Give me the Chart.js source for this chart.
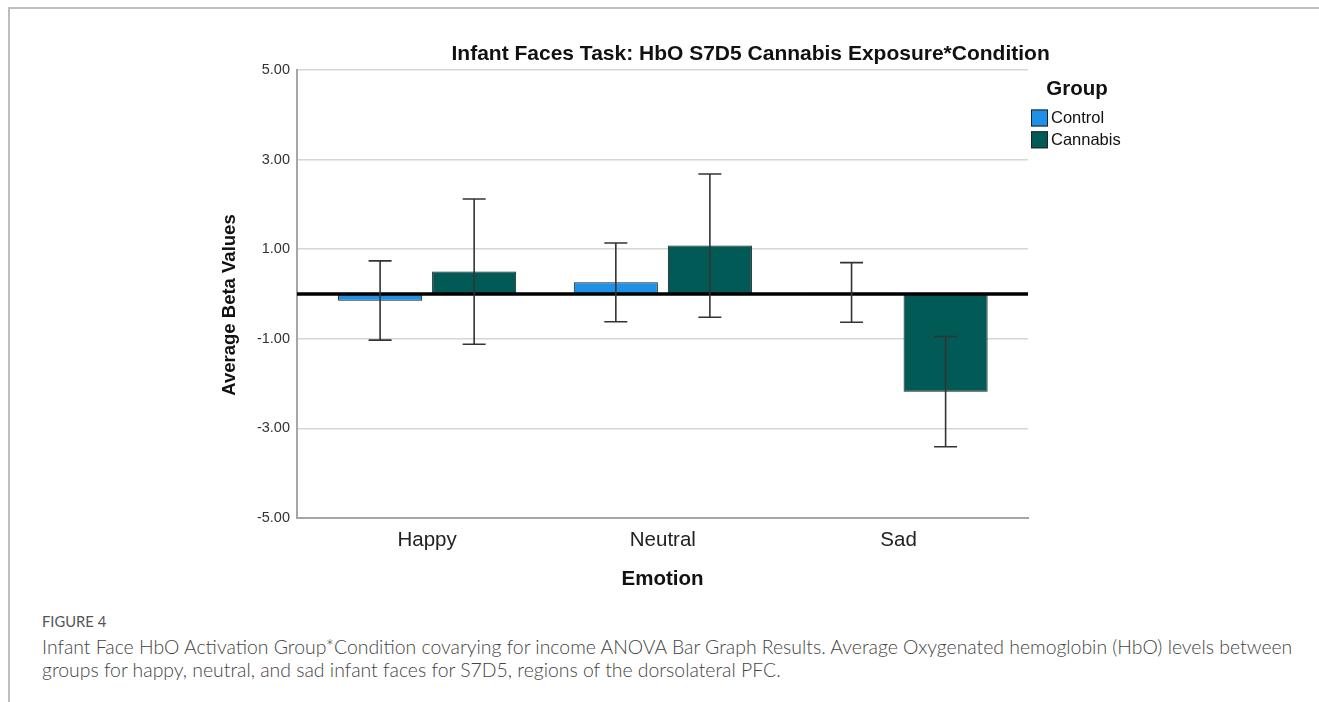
<!DOCTYPE html>
<html><head><meta charset="utf-8">
<script src="https://cdn.jsdelivr.net/npm/chart.js@4.4.1/dist/chart.umd.min.js"></script>
<style>
html,body{margin:0;padding:0;background:#fff;}
body{width:1319px;height:702px;position:relative;overflow:hidden;}
#frame{position:absolute;left:8px;top:7px;width:1400px;height:800px;border-top:2px solid #bdbdbd;border-left:2px solid #bdbdbd;}
#wrap{position:absolute;left:0;top:0;width:1319px;height:600px;}
#fig{position:absolute;left:42px;top:612px;font-family:Lato,sans-serif;font-weight:400;font-size:13px;line-height:18px;color:#555;}
#cap{position:absolute;left:42px;top:635px;font-family:Lato,sans-serif;font-weight:300;font-size:17px;line-height:23px;color:#444;white-space:nowrap;}
</style></head>
<body>
<div id="frame"></div>
<div id="wrap"><canvas id="c" width="1319" height="600"></canvas></div>
<div id="fig">FIGURE 4</div>
<div id="cap"><span id="l1">Infant Face HbO Activation Group*Condition covarying for income ANOVA Bar Graph Results. Average Oxygenated hemoglobin (HbO) levels between</span><br><span id="l2">groups for happy, neutral, and sad infant faces for S7D5, regions of the dorsolateral PFC.</span></div>
<script>
// ---- data ----
const categories = ['Happy', 'Neutral', 'Sad'];
const seriesNames = ['Control', 'Cannabis'];
const controlMeans = [-0.15, 0.26, 0.03];
const controlLower = [-1.03, -0.62, -0.63];
const controlUpper = [0.74, 1.14, 0.70];
const cannabisMeans = [0.50, 1.08, -2.18];
const cannabisLower = [-1.12, -0.52, -3.41];
const cannabisUpper = [2.12, 2.68, -0.95];
const yTickValues = [-5, -3, -1, 1, 3, 5];
const chartTitle = 'Infant Faces Task: HbO S7D5 Cannabis Exposure*Condition';
const yTitle = 'Average Beta Values';
const xTitle = 'Emotion';
const legendTitle = 'Group';

// fit caption width
(function(){
  const l1 = document.getElementById('l1');
  const w = l1.getBoundingClientRect().width;
  const cap = document.getElementById('cap');
  const fs = 17 * 1251 / w;
  cap.style.fontSize = fs.toFixed(2) + 'px';
  document.getElementById('fig').style.fontSize = (fs * 0.76).toFixed(2) + 'px';
})();

const FONT = "'Liberation Sans', Arial, sans-serif";
const errors = [[controlLower, controlUpper], [cannabisLower, cannabisUpper]];

const decor = {
  id: 'decor',
  afterDatasetsDraw(chart) {
    const {ctx, chartArea, scales: {y}} = chart;
    const y0 = y.getPixelForValue(0);
    ctx.save();
    ctx.strokeStyle = '#000';
    ctx.lineWidth = 3.5;
    ctx.beginPath();
    ctx.moveTo(chartArea.left, y0);
    ctx.lineTo(chartArea.right, y0);
    ctx.stroke();
    ctx.strokeStyle = '#333';
    ctx.lineWidth = 1.6;
    chart.data.datasets.forEach((ds, di) => {
      const meta = chart.getDatasetMeta(di);
      meta.data.forEach((el, i) => {
        const lo = y.getPixelForValue(errors[di][0][i]);
        const hi = y.getPixelForValue(errors[di][1][i]);
        const x = el.x;
        ctx.beginPath();
        ctx.moveTo(x, lo); ctx.lineTo(x, hi);
        ctx.moveTo(x - 11.5, lo); ctx.lineTo(x + 11.5, lo);
        ctx.moveTo(x - 11.5, hi); ctx.lineTo(x + 11.5, hi);
        ctx.stroke();
      });
    });
    ctx.restore();
  },
  afterDraw(chart) {
    const {ctx} = chart;
    ctx.save();
    ctx.fillStyle = '#111';
    ctx.font = 'bold 21px ' + FONT;
    ctx.textAlign = 'left';
    ctx.textBaseline = 'alphabetic';
    ctx.fillText(chartTitle, 451.5, 60);
    ctx.save();
    ctx.translate(230, 305);
    ctx.rotate(-Math.PI / 2);
    ctx.font = 'bold 18.5px ' + FONT;
    ctx.textAlign = 'center';
    ctx.textBaseline = 'middle';
    ctx.fillText(yTitle, 0, 0);
    ctx.restore();
    ctx.font = 'bold 20.5px ' + FONT;
    ctx.textAlign = 'center';
    ctx.textBaseline = 'middle';
    ctx.fillText(legendTitle, 1077, 89);
    ctx.font = '16.5px ' + FONT;
    ctx.textAlign = 'left';
    chart.data.datasets.forEach((ds, i) => {
      const top = 109.5 + i * 21.8;
      ctx.fillStyle = ds.backgroundColor;
      ctx.fillRect(1031, top, 17, 17);
      ctx.strokeStyle = '#222';
      ctx.lineWidth = 1;
      ctx.strokeRect(1031.5, top + 0.5, 16, 16);
      ctx.fillStyle = '#111';
      ctx.fillText(ds.label, 1051, top + 9);
    });
    ctx.restore();
  }
};

const pts = (arr) => arr.map((v, i) => ({x: i, y: v}));

new Chart(document.getElementById('c'), {
  type: 'bar',
  data: {
    datasets: [
      {label: seriesNames[0], data: pts(controlMeans), backgroundColor: '#1e90e6', borderColor: '#1c1c1c', borderWidth: 1, borderSkipped: false},
      {label: seriesNames[1], data: pts(cannabisMeans), backgroundColor: '#015a55', borderColor: '#1c1c1c', borderWidth: 1, borderSkipped: false}
    ]
  },
  options: {
    responsive: false,
    animation: false,
    events: [],
    categoryPercentage: 0.798,
    barPercentage: 0.894,
    layout: {padding: {left: 217, right: 291, top: 70, bottom: 4}},
    plugins: {legend: {display: false}, title: {display: false}, tooltip: {enabled: false}},
    scales: {
      x: {
        type: 'linear',
        min: -0.552, max: 2.549,
        bounds: 'data',
        offset: false,
        afterFit: (s) => { s.height = 78; },
        afterBuildTicks: (s) => { s.ticks = categories.map((c, i) => ({value: i})); },
        grid: {display: false, drawTicks: false},
        border: {display: true, color: '#a5a5a5', width: 2},
        ticks: {
          autoSkip: false, maxRotation: 0, padding: 10,
          color: '#222', font: {family: FONT, size: 20.5},
          callback: (v) => categories[v] !== undefined ? categories[v] : ''
        },
        title: {display: true, text: xTitle, color: '#111', font: {family: FONT, size: 20.5, weight: 'bold'}, padding: {top: 0, bottom: 4}}
      },
      y: {
        min: -5, max: 5,
        bounds: 'data',
        afterFit: (s) => { s.width = 80; },
        afterBuildTicks: (s) => { s.ticks = yTickValues.map(v => ({value: v})); },
        grid: {color: '#d6d6d6', lineWidth: 1.5, drawTicks: false},
        border: {display: true, color: '#a5a5a5', width: 2},
        ticks: {padding: 7, color: '#333', font: {family: FONT, size: 14.5}, callback: (v) => Number(v).toFixed(2)}
      }
    }
  },
  plugins: [decor]
});
</script>
</body></html>
